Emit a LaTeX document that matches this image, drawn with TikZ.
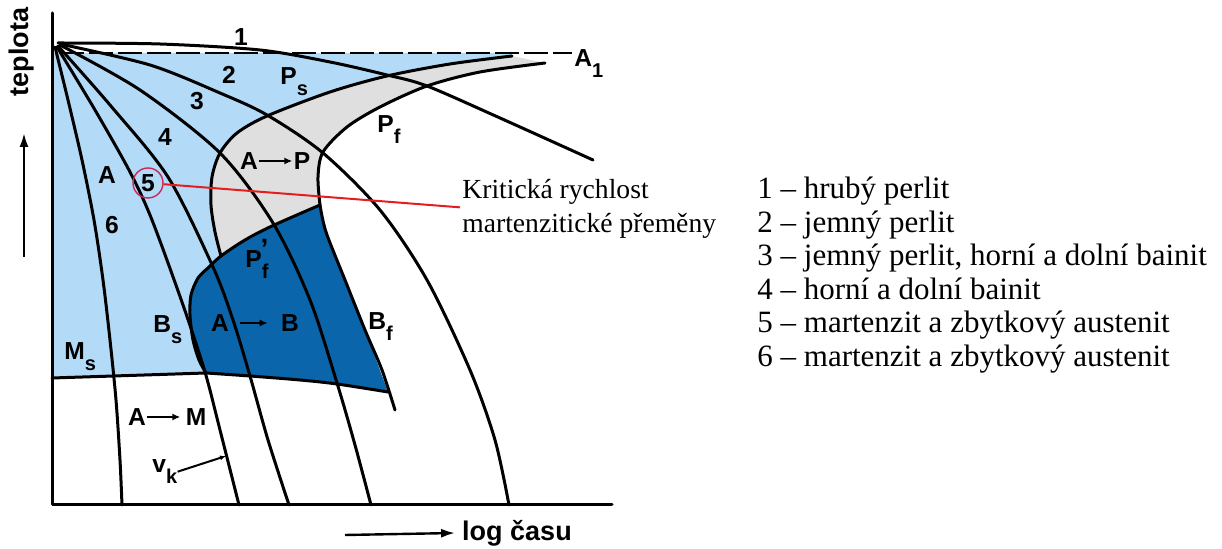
\documentclass[tikz,border=0pt]{standalone}
\usepackage{fontspec}
\setmainfont{Liberation Serif}
\setsansfont{Liberation Sans}
\usepackage{tikz}
\usepackage{xcolor}
\usetikzlibrary{arrows.meta, positioning, calc}
\definecolor{austblue}{HTML}{B3DAF7}
\definecolor{perlgray}{HTML}{DFDFDF}
\definecolor{bainblue}{HTML}{0A65AB}
\definecolor{critred}{HTML}{E41E1E}
\definecolor{ringred}{HTML}{C8285A}
\tikzstyle{curve} = [line width=1.5pt, line cap=round, line join=round]
\tikzstyle{lbl} = [font=\sffamily\bfseries\fontsize{12.3}{13}\selectfont, inner sep=0.5pt]
\tikzstyle{sublbl} = [lbl, anchor=base west, inner sep=0pt]
\tikzstyle{axistext} = [font=\sffamily\bfseries\fontsize{13.5}{14}\selectfont]
\tikzstyle{legend} = [font=\fontsize{15.5}{17}\selectfont, anchor=base west, inner sep=0pt]
\tikzstyle{note} = [font=\fontsize{13.8}{15}\selectfont, anchor=base west, inner sep=1pt]
\tikzstyle{arrow} = [-{Latex[length=4pt, width=3.5pt]}, line width=1.2pt]
\newcommand{\idx}[1]{\raisebox{-0.8ex}{\fontsize{10}{10}\selectfont #1}}

\begin{document}
\begin{tikzpicture}[x=0.5pt, y=-0.5pt]
    \useasboundingbox (0,0) rectangle (1222,549);

    % regions
    \fill[austblue] (52,53) -- (512,53)
        -- plot[smooth] coordinates {(512,56) (450,64) (387,76) (330,92) (267,116) (237,133) (220,153) (212,177) (211,205) (215,232) (221,256)}
        -- (208,268)
        -- plot[smooth] coordinates {(208,268) (198,278) (191,295) (190,315) (193,340) (199,360) (206,373)}
        -- (52,378) -- cycle;
    \fill[perlgray] plot[smooth] coordinates {(512,56) (450,64) (387,76) (330,92) (267,116) (237,133) (220,153) (212,177) (211,205) (215,232) (221,256)}
        -- plot[smooth] coordinates {(221,256) (245,240) (272,226) (320,205)}
        -- plot[smooth] coordinates {(320,205) (318,177) (323,152) (347,127) (380,107) (427,86) (480,72) (545,63)}
        -- cycle;
    \fill[bainblue] plot[smooth] coordinates {(208,268) (221,256) (245,240) (272,226) (320,205)}
        -- plot[smooth] coordinates {(320,205) (326,232) (345,280) (365,330) (388,392)}
        -- plot[smooth] coordinates {(388,392) (337,384) (300,380) (250,376) (206,373)}
        -- plot[smooth] coordinates {(206,373) (199,360) (193,340) (190,315) (191,295) (198,278) (208,268)}
        -- cycle;

    % A1 line and axes
    \draw[line width=1.2pt, dash pattern=on 12pt off 2.5pt] (60,53) -- (572,53);
    \draw[curve] (52,13) -- (52,505) -- (612,505);

    % cooling curves
    \draw[curve] plot[smooth] coordinates {(58,43) (160,44) (260,50) (330,62) (387,75) (427,86) (500,118) (593,160)};
    \draw[curve] plot[smooth] coordinates {(60,44) (150,65) (220,93) (267,115) (323,153) (380,210) (427,280) (470,370) (495,440) (509,505)};
    \draw[curve] plot[smooth] coordinates {(60,45) (140,90) (220,153) (273,223) (310,300) (337,383) (355,445) (371,505)};
    \draw[curve] plot[smooth] coordinates {(58,46) (110,105) (168,177) (213,267) (233,320) (250,376) (268,440) (289,505)};
    \draw[curve] plot[smooth] coordinates {(57,47) (95,110) (130,172) (152,220) (183,305) (205,372) (220,430) (239,505)};
    \draw[curve] plot[smooth] coordinates {(55,47) (68,100) (82,160) (94,220) (103,280) (110,340) (116,400) (120,460) (122,505)};

    % transformation lines
    \draw[curve] plot[smooth] coordinates {(512,56) (450,64) (387,76) (330,92) (267,116) (237,133) (220,153) (212,177) (211,205) (215,232) (221,256)};
    \draw[curve] plot[smooth] coordinates {(545,63) (480,72) (427,86) (380,107) (347,127) (323,152) (318,177) (320,205)};
    \draw[curve] plot[smooth] coordinates {(208,268) (221,256) (245,240) (272,226) (320,205)};
    \draw[curve] plot[smooth] coordinates {(320,205) (326,232) (345,280) (365,330) (382,370) (395,410)};
    \draw[curve] plot[smooth] coordinates {(208,268) (198,278) (191,295) (190,315) (193,340) (199,360) (206,373)};
    \draw[curve] (52,378) -- (206,373) -- plot[smooth] coordinates {(206,373) (250,376) (300,380) (337,384) (388,392)};

    % labels
    \node[lbl] (n1) at (241,37) {1};
    \node[lbl] (n2) at (229,75) {2};
    \node[lbl] (n3) at (197,101) {3};
    \node[lbl] (n4) at (165,137) {4};
    \node[lbl, circle, draw=ringred, line width=0.7pt, minimum size=15pt, inner sep=0pt] (n5) at (148,183) {5};
    \node[lbl] (n6) at (112,225) {6};
    \node[lbl] (aust) at (107,175) {A};

    \node[sublbl] (ps) at (280,85) {P\idx{s}};
    \node[sublbl] (pf) at (377,133) {P\idx{f}};
    \node[sublbl] (pf2) at (245,268) {P\idx{f}\llap{\raisebox{0.7ex}{\fontsize{14}{14}\selectfont ’}}};
    \node[sublbl] (bs) at (153,333) {B\idx{s}};
    \node[sublbl] (bf) at (368,330) {B\idx{f}};
    \node[sublbl] (ms) at (64,360) {M\idx{s}};
    \node[sublbl] (vk) at (152,473) {v\idx{k}};
    \node[sublbl] (a1) at (574,67) {A\idx{1}};

    \node[lbl] (apa) at (249,161) {A};
    \node[lbl] (app) at (302,161) {P};
    \draw[arrow] (apa) -- (app);

    \node[lbl] (aba) at (220,323) {A};
    \node[lbl] (abb) at (290,323) {B};
    \draw[arrow, shorten <=5pt, shorten >=6pt] (aba) -- (abb);

    \node[lbl] (ama) at (137,417) {A};
    \node[lbl] (amm) at (196,417) {M};
    \draw[arrow, shorten >=2pt] (ama) -- (amm);

    \coordinate (vkend) at (226,456);
    \draw[line width=1pt, -{Latex[length=3pt, width=2.5pt]}] (vk.east) -- (vkend);

    % axis titles
    \node[axistext, rotate=90] (temp) at (22,52) {teplota};
    \coordinate (tbot) at (24,257);
    \coordinate (ttop) at (24,133);
    \draw[line width=1.2pt, -{Latex[length=7pt, width=4.5pt]}] (tbot) -- (ttop);

    \node[axistext] (time) at (517,533) {log času};
    \coordinate (tstart) at (345,535);
    \draw[line width=1.2pt, -{Latex[length=7pt, width=4.5pt]}] (tstart) -- (time.west);

    % critical rate note
    \node[note] (krit) at (460,199) {Kritická rychlost};
    \node[note] (mart) at (460,232.5) {martenzitické přeměny};
    \draw[critred, line width=1pt] (n5) -- (krit.south west);

    % legend
    \node[legend] (leg1) at (757,199) {1 – hrubý perlit};
    \node[legend] (leg2) at (757,232.5) {2 – jemný perlit};
    \node[legend] (leg3) at (757,266) {3 – jemný perlit, horní a dolní bainit};
    \node[legend] (leg4) at (757,299.5) {4 – horní a dolní bainit};
    \node[legend] (leg5) at (757,333) {5 – martenzit a zbytkový austenit};
    \node[legend] (leg6) at (757,366.5) {6 – martenzit a zbytkový austenit};
\end{tikzpicture}
\end{document}
